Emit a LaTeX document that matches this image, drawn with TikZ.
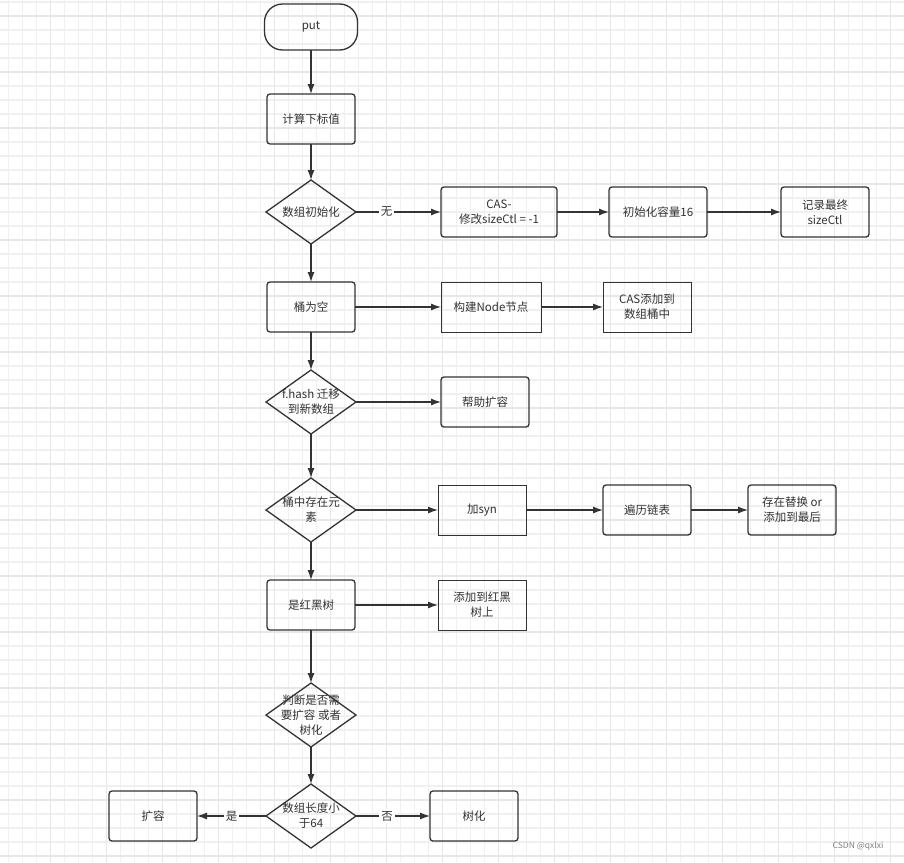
\documentclass[tikz,border=0pt]{standalone}
\usepackage{fontspec}
\setmainfont{Noto Sans CJK SC}
\usepackage{xcolor}
\usetikzlibrary{shapes.geometric, positioning, arrows.meta}
\definecolor{linecol}{HTML}{333333}
\definecolor{txtcol}{HTML}{333333}
\definecolor{minorcol}{HTML}{F0F0F0}
\definecolor{majorcol}{HTML}{E7E7E7}

\begin{document}
\begin{tikzpicture}[
    > = {Latex[length=10pt, width=7pt]}, align=center,
    font = \fontsize{11.5}{15}\selectfont, text = txtcol,
    start/.style = {rectangle, rounded corners = 18pt, draw = linecol, line width = 1.3pt, minimum width = 93pt, minimum height = 46pt, inner sep = 0pt, outer sep = 0pt},
    proc/.style = {rectangle, rounded corners = 3pt, draw = linecol, line width = 1.3pt, minimum width = 88pt, minimum height = 50pt, inner sep = 0pt, outer sep = 0pt},
    plain/.style = {proc, sharp corners, line width = 0.8pt},
    decision/.style = {diamond, draw = linecol, line width = 1.3pt, minimum width = 90pt, minimum height = 64pt, inner sep = 0pt, outer sep = 0pt},
    path/.style = {->, draw = linecol, line width = 1.2pt},
    tag/.style = {fill = white, inner sep = 2pt},
    minor/.style = {draw = minorcol, line width = 1.2pt},
    major/.style = {draw = majorcol, line width = 1.5pt},
    ]

    \useasboundingbox[fill = white] (0,0) rectangle (904pt,-862pt);

    % background grid
    \foreach \i in {0,...,63} \draw[minor] ({(8.7+14*\i)*1pt},0) -- ++(0,-862pt);
    \foreach \i in {0,...,61} \draw[minor] (0,{-(2+14*\i)*1pt}) -- ++(904pt,0);
    \foreach \i in {0,...,15} \draw[major] ({(50.7+56*\i)*1pt},0) -- ++(0,-862pt);
    \foreach \i in {0,...,15} \draw[major] (0,{-(16+56*\i)*1pt}) -- ++(904pt,0);

    % main column
    \node [start] (put) at (311pt,-27pt) {put};
    \node [proc] (idx)   [below =44pt of put]  {计算下标值};
    \node [decision, label = {center:数组初始化}] (init) [below =36pt of idx] {};
    \node [proc] (empty) [below =38pt of init] {桶为空};
    \node [decision, label = {center:f.hash 迁移\\到新数组}] (fhash) [below =38pt of empty] {};
    \node [decision, label = {center:桶中存在元\\素}] (exist) [below =44pt of fhash] {};
    \node [proc] (rbt)   [below =38pt of exist] {是红黑树};
    \node [decision, label = {center:判断是否需\\要扩容 或者\\树化}] (judge) [below =53pt of rbt] {};
    \node [decision, label = {center:数组长度小\\于64}] (len) [below =37pt of judge] {};

    % side branches
    \node [proc, minimum width = 116pt] (cas) [right =85pt of init] {CAS-\\修改sizeCtl = -1};
    \node [proc, minimum width = 98pt] (cap) [right =52pt of cas] {初始化容量16};
    \node [proc] (record) [right =74pt of cap] {记录最终\\sizeCtl};

    \node [plain, minimum width = 100pt] (build) [right =86pt of empty] {构建Node节点};
    \node [plain] (casadd) [right =62pt of build] {CAS添加到\\数组桶中};

    \node [proc] (help) [right =85pt of fhash] {帮助扩容};

    \node [plain] (syn) [right =82pt of exist] {加syn};
    \node [proc] (walk) [right =77pt of syn] {遍历链表};
    \node [proc] (replace) [right =57pt of walk] {存在替换 or\\添加到最后};

    \node [plain] (addrbt) [right =83pt of rbt] {添加到红黑\\树上};

    \node [proc] (expand) [left =69pt of len] {扩容};
    \node [proc] (treeify) [right =74pt of len] {树化};

    \node [font = \fontsize{8.5}{10}\selectfont, text = gray] (mark) at (858pt,-846pt) {CSDN @qxlxi};

    % draw paths
    \draw [path] (put) -- (idx);
    \draw [path] (idx) -- (init);
    \draw [path] (init) -- (empty);
    \draw [path] (empty) -- (fhash);
    \draw [path] (fhash) -- (exist);
    \draw [path] (exist) -- (rbt);
    \draw [path] (rbt) -- (judge);
    \draw [path] (judge) -- (len);

    \draw [path] (init) -- node [tag, pos = .36] {无} (cas);
    \draw [path] (cas) -- (cap);
    \draw [path] (cap) -- (record);
    \draw [path] (empty) -- (build);
    \draw [path] (build) -- (casadd);
    \draw [path] (fhash) -- (help);
    \draw [path] (exist) -- (syn);
    \draw [path] (syn) -- (walk);
    \draw [path] (walk) -- (replace);
    \draw [path] (rbt) -- (addrbt);
    \draw [path] (len) -- node [tag] {是} (expand);
    \draw [path] (len) -- node [tag, pos = .42] {否} (treeify);
\end{tikzpicture}
\end{document}
